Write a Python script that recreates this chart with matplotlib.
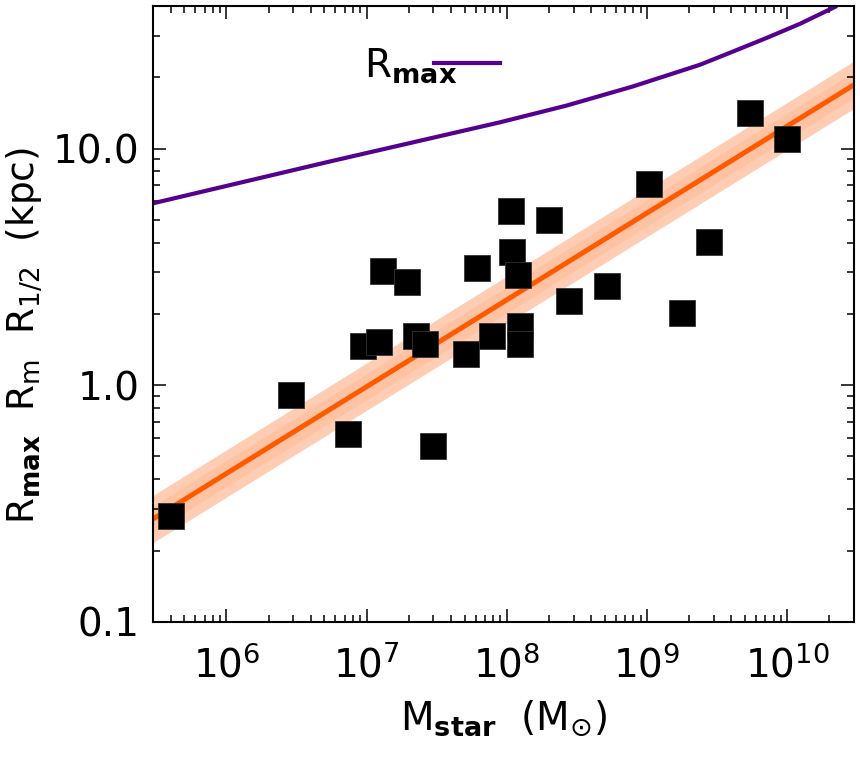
import numpy as np
import matplotlib
matplotlib.use("Agg")
import matplotlib.pyplot as plt

plt.rcParams['font.family'] = ['DejaVu Sans']
plt.rcParams['mathtext.fontset'] = 'custom'
plt.rcParams['mathtext.rm'] = 'DejaVu Sans'
plt.rcParams['mathtext.it'] = 'DejaVu Sans'
plt.rcParams['mathtext.bf'] = 'DejaVu Sans:bold'

# galaxies: stellar mass (Msun) and half-light radius (kpc)
mstar = [4.0e5, 2.9e6, 7.4e6, 2.96e7, 9.4e6, 1.22e7, 1.30e7, 1.93e7, 2.24e7,
         2.6e7, 5.1e7, 6.1e7, 7.9e7, 1.09e8, 1.20e8, 1.24e8, 1.24e8, 1.07e8,
         2.0e8, 2.77e8, 5.2e8, 1.03e9, 1.78e9, 2.77e9, 5.44e9, 1.0e10]
r_half = [0.28, 0.91, 0.62, 0.553, 1.46, 1.52, 3.03, 2.72, 1.61,
          1.50, 1.35, 3.12, 1.61, 3.64, 2.91, 1.77, 1.50, 5.42,
          5.01, 2.26, 2.62, 7.05, 2.01, 4.01, 14.1, 11.0]

# power-law fit (end points) and its scatter band in dex
fit_m = [3.0e5, 3.0e10]
fit_r = [0.272, 18.6]
band_outer = 0.10
band_inner = 0.055

# R_max curve
rmax_m = [2.96e5, 5.44e6, 8.9e7, 2.68e8, 7.94e8, 2.39e9, 4.11e9, 7.2e9, 1.24e10, 2.2e10]
rmax_r = [5.86, 8.81, 12.9, 15.2, 18.3, 22.6, 25.7, 29.4, 33.7, 39.7]

fig = plt.figure(figsize=(8.6, 7.62), dpi=100)
ax = fig.add_axes([0.178, 0.184, 0.815, 0.808])
ax.set_xscale('log')
ax.set_yscale('log')

fit_m = np.array(fit_m)
fit_r = np.array(fit_r)
ax.fill_between(fit_m, fit_r / 10**band_outer, fit_r * 10**band_outer,
                color='#FFCDB3', lw=0, zorder=1)
ax.fill_between(fit_m, fit_r / 10**band_inner, fit_r * 10**band_inner,
                color='#FFC3A3', lw=0, zorder=1)
ax.plot(fit_m, fit_r, color='#FF5A00', lw=3.6, zorder=2)

ax.plot(rmax_m, rmax_r, color='#55008F', lw=3.0, zorder=2,
        solid_joinstyle='round', label=r'R$_{\mathbf{max}}$')

ax.plot(mstar, r_half, 's', color='black', ms=18.5, mec='#333333', mew=0.6, zorder=3)

ax.set_xlim(3.0e5, 3.0e10)
ax.set_ylim(0.1, 40)

ax.set_xticks([1e6, 1e7, 1e8, 1e9, 1e10])
ax.set_xticklabels([r'10$^{6}$', r'10$^{7}$', r'10$^{8}$', r'10$^{9}$', r'10$^{10}$'])
ax.set_yticks([0.1, 1.0, 10.0])
ax.set_yticklabels(['0.1', '1.0', '10.0'])

ax.tick_params(which='both', direction='in', top=True, right=True, width=1.1)
ax.tick_params(which='major', length=9.5, labelsize=28, pad=10)
ax.tick_params(which='minor', length=5)
ax.tick_params(axis='x', which='major', pad=17)
for s in ax.spines.values():
    s.set_linewidth(1.5)

ax.set_xlabel(r'M$_{\mathbf{star}}$  (M$_{\odot}$)', fontsize=28)
ax.set_ylabel(r'R$_{\mathbf{max}}$  R$_{\mathrm{m}}$  R$_{1/2}$  (kpc)', fontsize=27)
ax.xaxis.set_label_coords(0.5, -0.125)
ax.yaxis.set_label_coords(-0.155, 0.465)

ax.legend(loc='upper left', bbox_to_anchor=(0.279, 0.96), frameon=False,
          markerfirst=False, fontsize=28, handlelength=1.7, handletextpad=-0.6,
          borderaxespad=0)

fig.savefig('out.png', dpi=100)
